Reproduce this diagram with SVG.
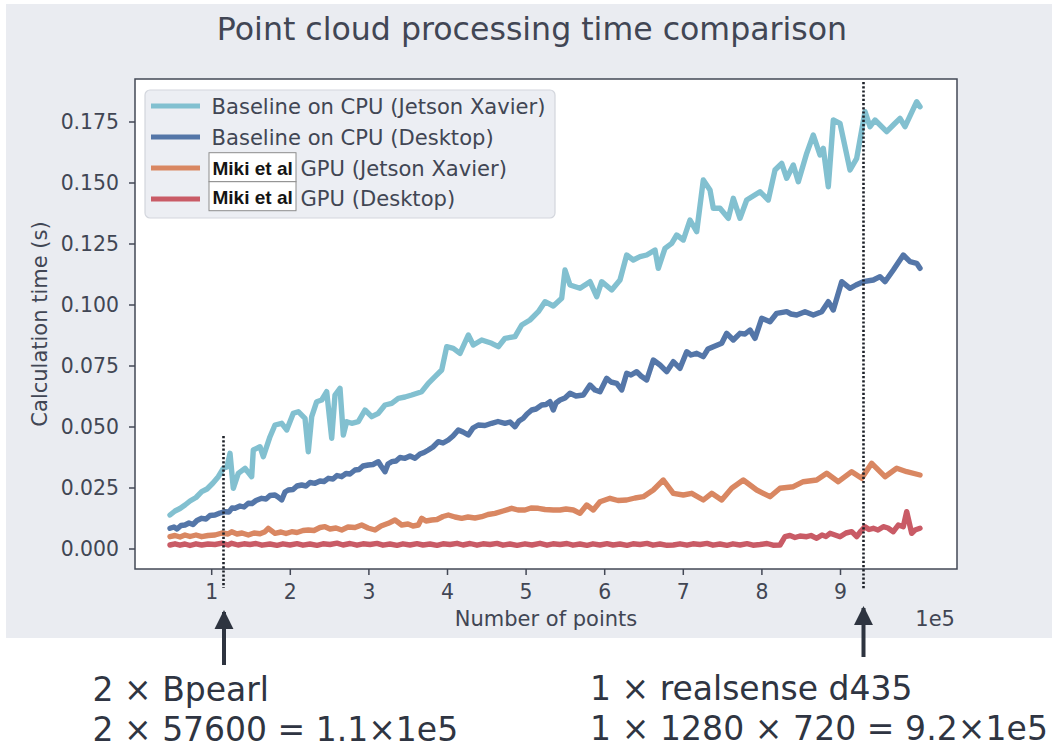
<svg xmlns="http://www.w3.org/2000/svg" width="1052" height="749" viewBox="0 0 1052 749">
  <style>
    .lbl { font-family: "DejaVu Sans", "Liberation Sans", sans-serif; fill: #414654; }
    .tick { font-size: 20.4px; }
    .axlbl { font-size: 21px; }
    .leg { font-size: 21.1px; }
    .note { font-family: "DejaVu Sans", "Liberation Sans", sans-serif; font-size: 33px; fill: #2f3542; }
    .miki { font-family: "Liberation Sans", Arial, sans-serif; font-weight: bold; font-size: 19px; fill: #141414; }
    .mikibox { fill: #ffffff; stroke: #8c8c8c; stroke-width: 1; }
    .series { fill: none; stroke-width: 5.4; stroke-linejoin: round; stroke-linecap: round; }
    .s-jx-cpu { stroke: #82c0d0; }
    .s-dt-cpu { stroke: #5476a8; }
    .s-jx-gpu { stroke: #d98762; }
    .s-dt-gpu { stroke: #c95b66; }
    .spine { fill: none; stroke: #434856; stroke-width: 1.5; }
    .tk { stroke: #434856; stroke-width: 1.5; }
    .dotted { stroke: #1e222a; stroke-width: 2.6; stroke-dasharray: 2.2 2; fill: none; }
    .arrow { stroke: #2e3440; stroke-width: 4; fill: none; }
  </style>
  <defs>
    <marker id="head" viewBox="0 0 10 10" refX="9" refY="5" markerWidth="4.8" markerHeight="4.8" markerUnits="strokeWidth" orient="auto">
      <path d="M0,0 L10,5 L0,10 z" fill="#2e3440"/>
    </marker>
  </defs>

  <!-- figure background -->
  <rect x="6" y="4" width="1046" height="634" fill="#eaecf1"/>

  <!-- title -->
  <text class="lbl" x="532" y="40" text-anchor="middle" style="font-size:31.6px">Point cloud processing time comparison</text>

  <!-- axes area -->
  <g id="axes">
    <rect x="135" y="79" width="822" height="490" fill="#ffffff"/>
    <rect class="spine" x="135" y="79" width="822" height="490"/>
    <!-- y ticks -->
    <g class="tk">
      <line x1="129" y1="549" x2="135" y2="549"/>
      <line x1="129" y1="488" x2="135" y2="488"/>
      <line x1="129" y1="427" x2="135" y2="427"/>
      <line x1="129" y1="366" x2="135" y2="366"/>
      <line x1="129" y1="305" x2="135" y2="305"/>
      <line x1="129" y1="244" x2="135" y2="244"/>
      <line x1="129" y1="183" x2="135" y2="183"/>
      <line x1="129" y1="122" x2="135" y2="122"/>
    </g>
    <g class="lbl tick" text-anchor="end">
      <text x="119" y="556">0.000</text>
      <text x="119" y="495">0.025</text>
      <text x="119" y="434">0.050</text>
      <text x="119" y="373">0.075</text>
      <text x="119" y="312">0.100</text>
      <text x="119" y="251">0.125</text>
      <text x="119" y="190">0.150</text>
      <text x="119" y="129">0.175</text>
    </g>
    <!-- x ticks -->
    <g class="tk">
      <line x1="211.7" y1="569" x2="211.7" y2="575"/>
      <line x1="290.3" y1="569" x2="290.3" y2="575"/>
      <line x1="368.9" y1="569" x2="368.9" y2="575"/>
      <line x1="447.5" y1="569" x2="447.5" y2="575"/>
      <line x1="526.1" y1="569" x2="526.1" y2="575"/>
      <line x1="604.7" y1="569" x2="604.7" y2="575"/>
      <line x1="683.3" y1="569" x2="683.3" y2="575"/>
      <line x1="761.9" y1="569" x2="761.9" y2="575"/>
      <line x1="840.5" y1="569" x2="840.5" y2="575"/>
    </g>
    <g class="lbl tick" text-anchor="middle">
      <text x="211.7" y="599">1</text>
      <text x="290.3" y="599">2</text>
      <text x="368.9" y="599">3</text>
      <text x="447.5" y="599">4</text>
      <text x="526.1" y="599">5</text>
      <text x="604.7" y="599">6</text>
      <text x="683.3" y="599">7</text>
      <text x="761.9" y="599">8</text>
      <text x="840.5" y="599">9</text>
    </g>
    <text class="lbl axlbl" x="546" y="626" text-anchor="middle">Number of points</text>
    <text class="lbl axlbl" x="955" y="626" text-anchor="end">1e5</text>
    <text class="lbl axlbl" transform="translate(47,324) rotate(-90)" text-anchor="middle">Calculation time (s)</text>
  </g>

  <!-- measured series -->
  <g id="series">
    <polyline id="desktop-gpu" class="series s-dt-gpu" points="170,545 175,543.8 180,545.2 185,544 190,545.5 196,543.8 201.7,545 208,544 215,544.5 222,543.2 228,545 231.7,543.3 238,545 244,543.8 250,544.5 256,543.5 262,545.2 270,544 277,545.3 283,543.8 290,545 297,543.6 303,545.2 310,544 317,545.3 323,543.8 330,544.5 337,543.2 343,545 350,543.5 357,545.2 363,543.8 370,544.5 377,543.4 383,545.2 390,544 397,545.3 403,543.8 410,545 417,543.6 423,545 430,544 437,545.4 443,543.8 450,544.5 457,543.3 463,545 470,543.5 477,545.2 483,543.8 490,544.5 497,543.4 503,545.2 510,544 517,545.3 525,543.8 532,545 540,543.3 547,545.2 553,543.8 560,544.5 567,543.5 573,545.2 580,544 587,545.3 593,543.8 600,545 607,543.6 613,545 620,544 627,545.3 633,543.8 640,544.5 647,543.4 653,545.2 660,544 667,545.3 673.3,545 680,543.8 687,545.2 693,543.8 700,544.5 707,543.4 713,545.2 720,544 727,545.3 733,543.8 740,545 747,543.6 753,545.2 760,544.5 767,543.5 773,545.2 780,545 785,536.7 790,535.5 795,537.5 800,536 806.7,536.7 811,535.5 816.7,538.3 822,535 826,536.5 830,533.3 835,535 840,536.7 846,533 851.7,531.7 856.7,536.7 861,531 865,526.7 869,529.5 873.3,528.3 878,530 883.3,526.7 888,528 893.3,531.7 898.3,525 903.3,526.7 906.7,511.7 911.7,533.3 915,530 920,528.3"/>
    <polyline id="jetson-gpu" class="series s-jx-gpu" points="170,536.7 175,535.5 180,537 185,535 190,536.5 196,535 201.7,536.7 208,535.5 215,535 222,533 228,534 231.7,531.7 237,534 242,533 248.3,535 254,533 260,533.8 265,531.7 268.3,528.3 275,533.3 281,532 286,533.5 291.7,531.7 297,532.5 303,530.5 308.3,530 314,530.5 320,527.5 325,526.7 330,529 336,528 341.7,530 348,527 355,527.5 361.7,525 368,528 375,530 381,526 388.3,523.3 395,520 401.7,525 408,524 413,526 418.3,525 421.7,518.3 426,521 431.7,520 437,519.5 443,516.5 448.3,515 455,517 461.7,518.3 468,517 475,518 481.7,516.7 488,514.5 495,513.3 503,511 511.7,508.3 518,510 525,510 531,508 538.3,508.3 545,509.5 553.3,510 560,510 566,509 573.3,510 580,513.3 586.7,505 593.3,510 600,501.7 610,498.3 618,500.5 626.7,500 635,498 643.3,496.7 653.3,490 663.3,480 673.3,493.3 683.3,495 691.7,493.3 703.3,500 711.7,493.3 721.7,500 731.7,488.3 743.3,480 756.7,490 770,496.7 780,488.3 793.3,486.7 803.3,481.7 816.7,480 826.7,473.3 838.3,481.7 851.7,471.7 861.7,478.3 871.7,463.3 885,476.7 896.7,468.3 906.7,471.7 920,475"/>
    <polyline id="desktop-cpu" class="series s-dt-cpu" points="170,528.3 174,527 177,529 181,525.5 185,525 189,523 193,524.5 197,520.5 201.7,518.3 206,519 210,515.5 215,515 220,513 225,511.7 229,512 232,508 235,508.3 240,506 244,507 248.3,503.3 252,503.5 256,500.5 261.7,498.3 266,499 270,495.5 275,495 278,497 281.7,500 285,492 288.3,490 293,489.5 297,486 301.7,485 306,486 310,482.5 315,483.3 320,481 324,481.5 328.3,478.3 333,479 337,475.5 341.7,476.7 346,473.5 350,474 355,470 359,469.5 363,466 368.3,465 373,464.5 378.3,461.7 381,466 385,471.7 388,464 391.7,461.7 396,461 400,457.5 405,458.3 410,456 415,458.3 420,454 424,452.5 428.3,450 433,447 438.3,441.7 443,443 448.3,440 453,436 458.3,430 463,432 468.3,435 473,428 478.3,425 485,425.5 491.7,423.3 498,421.5 505,423.3 510,422 515,426.7 519,421 523.3,418.3 527,414 531.7,410 536,409 541.7,405 546,404.5 550,401.7 553.3,410 556,403 560,400 565,398 570,393.3 576,396 583.3,395 590,385 595,390 600,391.7 606.7,378.3 611,382 616.7,383.3 621.7,390 626.7,373.3 631,375 636.7,371.7 641,376 646.7,380 653.3,360 660,365 666.7,371.7 673.3,361.7 680,368.3 686.7,351.7 691,355 696.7,353.3 703.3,356.7 708,349 713.3,346.7 721.7,343.3 726.7,333.3 733.3,340 740,333.3 745,334 750,330 755,338.3 761.7,318.3 770,321.7 776.7,313.3 786.7,311.7 791,314 796.7,315 805,311.7 813.3,315 821.7,311.7 828.3,301.7 833.3,310 841.7,281.7 850,288.3 856,285 863.3,281.7 873.3,280 880,276.7 885,281.7 893.3,270 903.3,255 910,261.7 916.7,263.3 920,268.3"/>
    <polyline id="jetson-cpu" class="series s-jx-cpu" points="170,515 175,511 180,508.5 185,505 190,501 196,497.5 201.7,491.7 207,489 213,483 218.3,476.7 223.3,468.3 227,467 230,453.3 233.3,488.3 238.3,473.3 245,468.3 251.7,476.7 253.3,450 260,446.7 263.3,456.7 270,436.7 275,425 281.7,423.3 286.7,430 293.3,413.3 298.3,411.7 305,418.3 308.3,451.7 311.7,416.7 316.7,401.7 321.7,400 326.7,391.7 331.7,438.3 335,395 340,388.3 343.3,435 346.7,421.7 351.7,423.3 358.3,421.7 365,410 371.7,416.7 378.3,413.3 385,405 391.7,403.3 398.3,398.3 405,397 411.7,395 421.7,391.7 428.3,383.3 435,376.7 441.7,370 446.7,346.7 453.3,348.3 460,353.3 468.3,335 473.3,345 481.7,340 491.7,343.3 498.3,346.7 505,338.3 515,336.7 521.7,325 530,320 538.3,311.7 545,301.7 553.3,306 561.7,298.3 565,270 570,285 580,288.3 590,281.7 596.7,296.7 601.7,281.7 611.7,290 620,280 626.7,255 633.3,260 640,256.7 646.7,255 655,250 658.3,268.3 665,248.3 671.7,243.3 676.7,235 683.3,240 690,220 696.7,231.7 703.3,180 710,190 713.3,208.3 720,208.3 728.3,218.3 733.3,198.3 740,218.3 746.7,200 760,191.7 768.3,200 775,170 781.7,163.3 786.7,178.3 793.3,165 798.3,181.7 806.7,153.3 813.3,135 820,155 823.3,148.3 828.3,186.7 833.3,120 840,123.3 850,170 856.7,158.3 865,111.7 870,126.7 875,120 886.7,131.7 893.3,125 900,118.3 905,126.7 916.7,101.7 920,106.7"/>
  </g>

  <!-- sensor markers -->
  <g id="markers">
    <line class="dotted" x1="223.5" y1="436" x2="223.5" y2="588"/>
    <line class="dotted" x1="863.5" y1="82" x2="863.5" y2="590"/>
  </g>

  <!-- legend -->
  <g id="legend">
    <rect x="145" y="90" width="410" height="128" rx="5" ry="5" fill="#eceef3" stroke="#d3d6dd" stroke-width="1.2"/>
    <line class="s-jx-cpu" x1="151" y1="106" x2="200" y2="106" stroke-width="5"/>
    <line class="s-dt-cpu" x1="151" y1="137" x2="200" y2="137" stroke-width="5"/>
    <line class="s-jx-gpu" x1="151" y1="168" x2="200" y2="168" stroke-width="5"/>
    <line class="s-dt-gpu" x1="151" y1="199" x2="200" y2="199" stroke-width="5"/>
    <text class="lbl leg" x="211.5" y="114">Baseline on CPU (Jetson Xavier)</text>
    <text class="lbl leg" x="211.5" y="145">Baseline on CPU (Desktop)</text>
    <rect class="mikibox" x="209" y="152.7" width="87" height="29"/>
    <rect class="mikibox" x="209" y="181.7" width="87" height="29"/>
    <text class="miki" x="212.5" y="175">Miki et al</text>
    <text class="miki" x="212.5" y="204">Miki et al</text>
    <text class="lbl leg" x="300.5" y="176">GPU (Jetson Xavier)</text>
    <text class="lbl leg" x="300.5" y="206">GPU (Desktop)</text>
  </g>

  <!-- annotation arrows -->
  <g id="connectors">
    <line class="arrow" x1="224" y1="665" x2="224" y2="612" marker-end="url(#head)"/>
    <line class="arrow" x1="863.5" y1="657" x2="863.5" y2="608" marker-end="url(#head)"/>
  </g>

  <!-- annotations -->
  <g id="note-bpearl">
    <text class="note" x="92.5" y="701">2 × Bpearl</text>
    <text class="note" x="92.5" y="741">2 × 57600 = 1.1×1e5</text>
  </g>
  <g id="note-realsense">
    <text class="note" x="590" y="700">1 × realsense d435</text>
    <text class="note" x="590" y="740" textLength="458" lengthAdjust="spacing">1 × 1280 × 720 = 9.2×1e5</text>
  </g>
</svg>
